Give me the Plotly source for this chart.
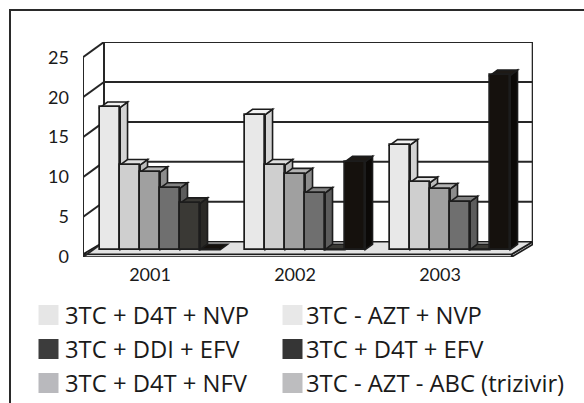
import plotly.graph_objects as go

# ---- data -------------------------------------------------------------
years = ["2001", "2002", "2003"]
regimens = ["3TC + D4T + NVP", "3TC - AZT + NVP", "3TC + DDI + EFV",
            "3TC + D4T + EFV", "3TC + D4T + NFV", "3TC - AZT - ABC (trizivir)"]
d4t_nvp = [17.8, 16.9, 13.1]
azt_nvp = [10.6, 10.6, 8.4]
ddi_efv = [9.7, 9.5, 7.6]
d4t_efv = [7.7, 7.1, 6.0]
d4t_nfv = [5.8, 0.0, 0.0]
trizivir = [0.0, 11.0, 21.8]
y_ticks = [0, 5, 10, 15, 20, 25]

series = [d4t_nvp, azt_nvp, ddi_efv, d4t_efv, d4t_nfv, trizivir]

# ---- styling: (front, top, side) shades for each series ---------------
shades = [
    ("#e8e8e8", "#f2f2f2", "#d4d4d4"),
    ("#cfcfcf", "#dfdfdf", "#bbbbbb"),
    ("#a0a0a0", "#b4b4b4", "#8c8c8c"),
    ("#6f6f6f", "#828282", "#5c5c5c"),
    ("#3a3935", "#3a3935", "#2a2926"),
    ("#15110d", "#1e1a16", "#0b0907"),
]
legend_colors = ["#e6e6e6", "#e8e8e8", "#3c3c3c", "#353535", "#b9b9bd", "#bdbdbf"]
EDGE = "#1c1c1c"
FONT = "Lato"
LEGEND_FONT = "Open Sans"

# ---- pseudo-3D geometry -------------------------------------------------
W, H = 584, 403
L, T, PW, PH = 83, 42, 450, 215
CAT_PX = 145.0          # pixels between category centres
CAT0_PX = 150.0         # first category centre on the floor front edge
UNIT_PX = 7.988         # pixels per value unit
X_MIN = (L - CAT0_PX) / CAT_PX
X_MAX = (L + PW - CAT0_PX) / CAT_PX
Y_MAX = PH / UNIT_PX
DX = 21.0 / CAT_PX      # full depth, horizontal part (x units)
DY = 15.3 / UNIT_PX     # full depth, vertical part (value units)
FLOOR_R = (511.7 - CAT0_PX) / CAT_PX
SLAB = 0.35             # floor thickness (value units)
BAR_W = 20.0 / CAT_PX
BAR_Z0 = 0.485          # depth of the bar front faces (fraction)
BAR_D = 0.35            # bar depth (fraction)

base = BAR_Z0 * DY
sdx, sdy = BAR_D * DX, BAR_D * DY


def path(pts):
    return "M " + " L ".join(f"{x:.5f},{y:.5f}" for x, y in pts) + " Z"


shapes = []


def poly(pts, fill, lw=1.6, color=EDGE, layer="below"):
    shapes.append(dict(type="path", path=path(pts), xref="x", yref="y",
                       fillcolor=fill, line=dict(color=color, width=lw),
                       layer=layer))


def seg(x0, y0, x1, y1, lw=2.0, color="#262626"):
    shapes.append(dict(type="line", x0=x0, y0=y0, x1=x1, y1=y1,
                       xref="x", yref="y", line=dict(color=color, width=lw),
                       layer="below"))


bx0, bx1 = X_MIN + DX, FLOOR_R + DX

# floor slab
poly([(X_MIN, 0), (FLOOR_R, 0), (FLOOR_R, SLAB), (X_MIN, SLAB)], "#d6d6d6")
poly([(FLOOR_R, 0), (bx1, DY - SLAB), (bx1, DY), (FLOOR_R, SLAB)], "#c8c8c8")
poly([(X_MIN, SLAB), (FLOOR_R, SLAB), (bx1, DY), (bx0, DY)], "#e2e2e2")

# back wall grid and frame, left wall
for v in y_ticks:
    if v > 0:
        seg(bx0, v + DY, bx1, v + DY)
    seg(X_MIN, v, bx0, v + DY)
seg(X_MIN, 0, X_MIN, y_ticks[-1])
seg(bx0, DY, bx0, y_ticks[-1] + DY)
seg(bx1, DY, bx1, y_ticks[-1] + DY)

# top and side faces of the bars, drawn left to right
for c in range(len(years)):
    for j, vals in enumerate(series):
        xc = c + BAR_Z0 * DX + (j - 2.5) * BAR_W
        xl, xr = xc - BAR_W / 2, xc + BAR_W / 2
        top = base + vals[c]
        front, lid, side = shades[j]
        if vals[c] > 0:
            poly([(xr, base), (xr + sdx, base + sdy), (xr + sdx, top + sdy),
                  (xr, top)], side)
        poly([(xl, top), (xr, top), (xr + sdx, top + sdy), (xl + sdx, top + sdy)],
             lid if vals[c] > 0 else front)

fig = go.Figure()
for j, vals in enumerate(series):
    xs = [c + BAR_Z0 * DX + (j - 2.5) * BAR_W for c in range(len(years))]
    fig.add_trace(go.Bar(
        x=xs, y=vals, base=[base] * len(vals), width=BAR_W,
        name=regimens[j], marker=dict(color=shades[j][0],
                                      line=dict(color=EDGE, width=1.7)),
        showlegend=False, hoverinfo="skip"))


def pxx(px):
    return (px - L) / PW


def pxy(py):
    return (T + PH - py) / PH


# outer frame
shapes.append(dict(type="rect", xref="paper", yref="paper",
                   x0=pxx(10), y0=pxy(10), x1=pxx(592), y1=pxy(412),
                   line=dict(color="#2a2a2a", width=2), fillcolor="rgba(0,0,0,0)"))

# legend: two columns, three rows
annotations = []
col_sq = [38.5, 282.5]
col_tx = [63, 304]
row_y = [315, 349, 383]
for k, name in enumerate(regimens):
    r, cidx = divmod(k, 2)
    cy = row_y[r]
    shapes.append(dict(type="rect", xref="paper", yref="paper",
                       x0=pxx(col_sq[cidx]), x1=pxx(col_sq[cidx] + 20),
                       y0=pxy(cy - 10), y1=pxy(cy + 10),
                       fillcolor=legend_colors[k], line=dict(width=0)))
    annotations.append(dict(text=name, xref="paper", yref="paper",
                            x=pxx(col_tx[cidx]), y=pxy(cy), xanchor="left",
                            yanchor="middle", showarrow=False,
                            font=dict(family=LEGEND_FONT, size=23.8, color="#1a1a1a")))

fig.update_layout(
    width=W, height=H, margin=dict(l=L, r=W - L - PW, t=T, b=H - T - PH),
    paper_bgcolor="white", plot_bgcolor="white",
    barmode="overlay", bargap=0,
    shapes=shapes, annotations=annotations, showlegend=False,
    xaxis=dict(range=[X_MIN, X_MAX], tickvals=list(range(len(years))),
               ticktext=years, showgrid=False, zeroline=False, showline=False,
               ticks="", ticklabelstandoff=5,
               tickfont=dict(family=FONT, size=18, color="#1a1a1a")),
    yaxis=dict(range=[0, Y_MAX], tickvals=y_ticks, showgrid=False,
               zeroline=False, showline=False, ticks="", ticklabelstandoff=13,
               tickfont=dict(family=FONT, size=18, color="#1a1a1a")),
)

fig.write_html("out.html")
